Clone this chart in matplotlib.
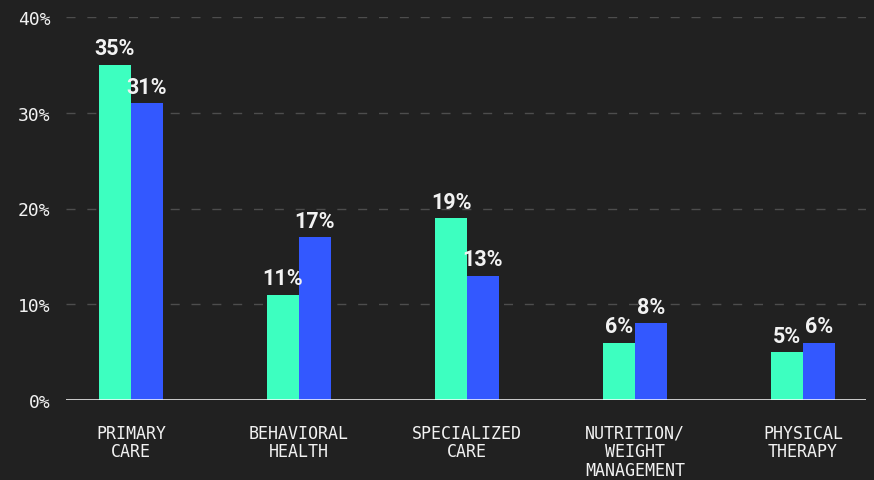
import numpy as np
import matplotlib
matplotlib.use("Agg")
import matplotlib.pyplot as plt

categories = ["PRIMARY\nCARE", "BEHAVIORAL\nHEALTH", "SPECIALIZED\nCARE",
              "NUTRITION/\nWEIGHT\nMANAGEMENT", "PHYSICAL\nTHERAPY"]
series_a = [35, 11, 19, 6, 5]
series_b = [31, 17, 13, 8, 6]
y_ticks = [0, 10, 20, 30, 40]

bg = "#212121"
green = "#3dffc0"
blue = "#3358ff"
text_color = "#f2f2f2"

fig = plt.figure(figsize=(8.74, 4.81), dpi=100, facecolor=bg)
ax = fig.add_axes([66 / 874, 80 / 481, 800 / 874, 383 / 481], facecolor=bg)

x = np.arange(len(categories))
w = 0.19
bars_a = ax.bar(x - w / 2, series_a, width=w, color=green, zorder=3)
bars_b = ax.bar(x + w / 2, series_b, width=w, color=blue, zorder=3)

for bars, vals in ((bars_a, series_a), (bars_b, series_b)):
    for b, v in zip(bars, vals):
        ax.annotate(f"{v}%", (b.get_x() + b.get_width() / 2, v),
                    xytext=(0, 4), textcoords="offset points",
                    ha="center", va="bottom", color=text_color,
                    fontsize=15.5, fontweight="bold", family="Roboto", zorder=4)

ax.set_xlim(-0.387, 4.375)
ax.set_ylim(0, 40)

# dashed grid
for t in y_ticks[1:]:
    ax.axhline(t, color="#4d4d4d", linewidth=1, dashes=(6.5, 8.5), zorder=1)
ax.axhline(0, color="white", linewidth=1.8, zorder=5)

ax.set_yticks(y_ticks)
ax.set_yticklabels([f"{t}%" for t in y_ticks], family="DejaVu Sans Mono",
                   fontsize=13, color=text_color)
ax.set_xticks(x)
ax.set_xticklabels(categories, family="DejaVu Sans Mono", fontsize=12,
                   color=text_color, linespacing=1.05)
ax.tick_params(axis="y", length=0, pad=11)
ax.tick_params(axis="x", length=0, pad=17)

for s in ax.spines.values():
    s.set_visible(False)

fig.savefig("out.png", dpi=100, facecolor=bg)
